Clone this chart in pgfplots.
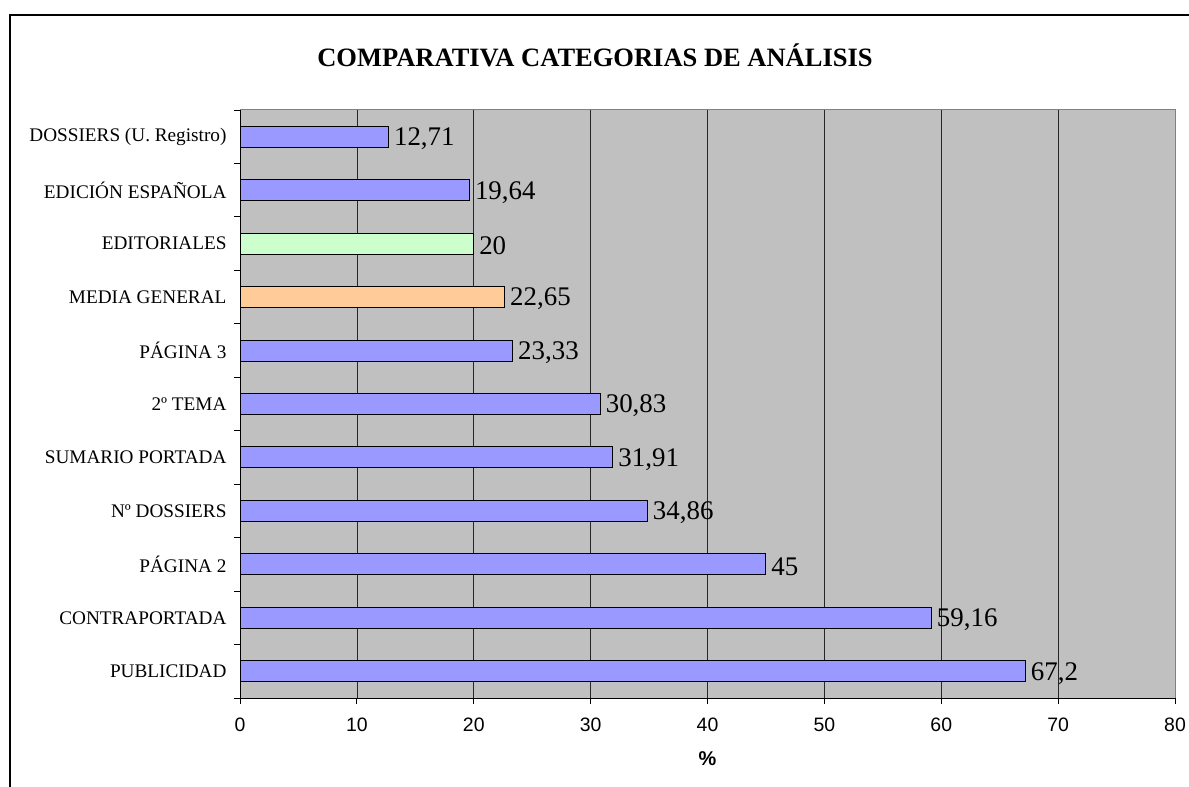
\documentclass[border=0pt]{standalone}
\usepackage{fontspec}
\setmainfont{Liberation Serif}
\newfontfamily\arial{Liberation Sans}
\usepackage{pgfplots}
\pgfplotsset{compat=1.18}
\definecolor{barblue}{HTML}{9999FF}
\definecolor{bargreen}{HTML}{CCFFCC}
\definecolor{barorange}{HTML}{FFCC99}
\definecolor{bggray}{HTML}{C0C0C0}
\definecolor{edgegray}{HTML}{808080}
\begin{document}
\begin{tikzpicture}[x=1bp,y=1bp]
\useasboundingbox (0,0) rectangle (1189,787);
\draw[line width=1.5bp] (10,-5) -- (10,772) -- (1195,772);
\node[font=\fontsize{26.6}{26.6}\selectfont\bfseries] at (595,732) {COMPARATIVA CATEGORIAS DE ANÁLISIS};
\begin{axis}[
  at={(240bp,89bp)}, anchor=south west,
  scale only axis, width=935bp, height=588bp,
  xmin=0, xmax=80, ymin=-0.5, ymax=10.5,
  axis x line*=bottom, axis y line*=left,
  axis line style={black, line width=0.8bp},
  axis background/.style={fill=bggray},
  xtick={0,10,...,80},
  xmajorgrids=true,
  grid style={black!85, line width=0.6bp},
  tick align=outside,
  major tick length=6bp,
  tick style={black, line width=0.8bp},
  xticklabel style={font=\arial\fontsize{19.5}{19.5}\selectfont, /pgf/number format/assume math mode=true, yshift=-10bp},
  xlabel={\arial\bfseries\fontsize{20}{20}\selectfont \%},
  xlabel style={yshift=-14bp},
  ytick={-0.5,0.5,...,10.5},
  yticklabels={},
  extra y ticks={0,1,2,3,4,5,6,7,8,9,10},
  extra y tick labels={PUBLICIDAD,CONTRAPORTADA,PÁGINA 2,Nº DOSSIERS,SUMARIO PORTADA,2º TEMA,PÁGINA 3,MEDIA GENERAL,EDITORIALES,EDICIÓN ESPAÑOLA,DOSSIERS (U. Registro)},
  extra y tick style={major tick length=0pt, yticklabel style={font=\fontsize{19.3}{19.3}\selectfont, xshift=-10bp}},
  xbar, bar width=21bp, bar shift=0pt,
  clip=false,
  nodes near coords={\pgfmathprintnumber[use comma, fixed, precision=2, assume math mode=true]{\pgfplotspointmeta}},
  nodes near coords align=horizontal,
  every node near coord/.append style={font=\fontsize{27}{27}\selectfont, anchor=west, inner sep=5bp, yshift=-2bp, black},
]
\addplot[fill=barblue, draw=black, line width=1bp] coordinates {
  (67.2,0) (59.16,1) (45,2) (34.86,3) (31.91,4) (30.83,5) (23.33,6) (19.64,9) (12.71,10)};
\addplot[fill=barorange, draw=black, line width=1bp] coordinates {(22.65,7)};
\addplot[fill=bargreen, draw=black, line width=1bp] coordinates {(20,8)};
\draw[edgegray, line width=1bp] (axis cs:0,10.5) -- (axis cs:80,10.5) -- (axis cs:80,-0.5);
\end{axis}
\end{tikzpicture}
\end{document}
